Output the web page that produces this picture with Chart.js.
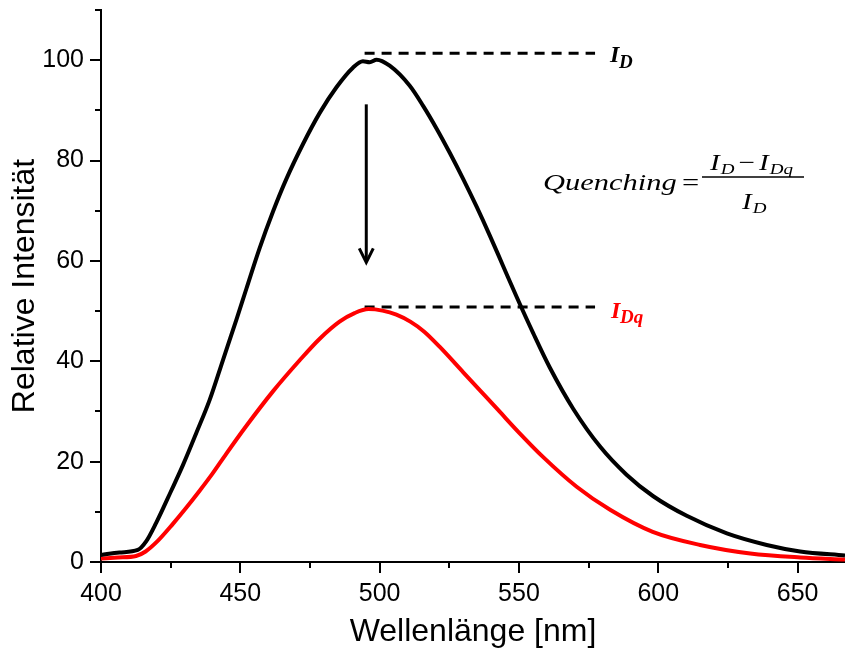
<!DOCTYPE html>
<html>
<head>
<meta charset="utf-8">
<script src="https://cdn.jsdelivr.net/npm/chart.js@4"></script>
<style>
  html, body { margin: 0; padding: 0; background: #fff; }
  #wrap { width: 845px; height: 652px; }
</style>
</head>
<body>
<div id="wrap"><canvas id="chart" width="845" height="652"></canvas></div>
<script>
// donor spectrum (black)
const blackNm = [400, 406.6, 413.2, 416.2, 419.8, 425.2, 429.4, 434.2, 439, 443.8, 448.6, 452.2, 456.9, 461.7,
  466.5, 472.5, 478.5, 484.5, 490.4, 494, 496.4, 498.9, 503.6, 510.8, 515.6, 520.4, 525.2, 530, 534.8,
  539.5, 544.3, 549.1, 555.1, 561.1, 569.5, 579.1, 588.6, 598.2, 610.2, 624.6, 638.9, 650.9, 667];
const blackVals = [1.4, 1.9, 2.4, 4.1, 7.8, 14.2, 19.3, 25.7, 32.3, 40.3, 48.3, 54.5, 62.5, 69.8,
  76.3, 83.3, 89.5, 94.6, 98.5, 99.8, 99.6, 100.1, 98.9, 94.9, 90.9, 86.4, 81.5, 76.3, 70.8,
  65.1, 59.0, 52.9, 45.6, 38.7, 30.5, 23.0, 17.4, 13.1, 9.2, 5.7, 3.4, 2.1, 1.3];

// quenched spectrum (red)
const redNm = [400, 406, 412.6, 416, 420, 425.8, 430, 435.4, 440, 445, 452, 461.7, 471.3, 478.5, 485.6,
  491, 496, 501, 506, 511, 516, 521.5, 530, 536, 543, 550, 558.7, 570.7, 582.7, 598, 615, 633, 651, 667];
const redVals = [0.7, 0.9, 1.2, 2.1, 4.0, 7.6, 10.4, 14.2, 17.6, 21.6, 27.0, 34.0, 40.2, 44.5, 47.9,
  49.6, 50.4, 50.1, 49.3, 47.9, 45.9, 42.9, 37.8, 34.2, 30.0, 25.8, 20.9, 15.0, 10.4, 6.0, 3.4, 1.7, 0.9, 0.5];

// dashed guide lines and arrow (data units)
const guideNm = [494.6, 577.3];
const guideTop = 101.4;
const guideBottom = 50.8;
const arrowNm = 495.2;
const arrowFrom = 91.2;
const arrowTo = 59.7;

const xMinor = [425, 475, 525, 575, 625];
const yMinor = [10, 30, 50, 70, 90, 110];

const toPoints = (xs, ys) => xs.map((v, i) => ({ x: v, y: ys[i] }));

// formula text is a little wider than the plain font, stretch it sideways
const STRETCH = 1.27;
function wide(ctx, text, x, y, font) {
  ctx.font = font;
  ctx.setTransform(STRETCH, 0, 0, 1, x, 0);
  ctx.fillText(text, 0, y);
  ctx.setTransform(1, 0, 0, 1, 0, 0);
  return x + ctx.measureText(text).width * STRETCH;
}
function sub(ctx, main, s, x, y) {
  const end = wide(ctx, main, x, y, 'italic 23px "Liberation Serif"');
  return wide(ctx, s, end + 1, y + 4, 'italic 15px "Liberation Serif"');
}

const extras = {
  id: 'extras',
  afterDraw(chart) {
    const { ctx, chartArea } = chart;
    const x = chart.scales.x, y = chart.scales.y;
    ctx.save();
    ctx.strokeStyle = '#000';
    ctx.lineWidth = 2;
    // minor ticks
    xMinor.forEach(v => {
      const px = Math.round(x.getPixelForValue(v));
      ctx.beginPath(); ctx.moveTo(px, chartArea.bottom); ctx.lineTo(px, chartArea.bottom + 6); ctx.stroke();
    });
    yMinor.forEach(v => {
      const py = Math.round(y.getPixelForValue(v));
      ctx.beginPath(); ctx.moveTo(chartArea.left, py); ctx.lineTo(chartArea.left - 6, py); ctx.stroke();
    });

    // arrow
    const ax = x.getPixelForValue(arrowNm);
    const ay1 = y.getPixelForValue(arrowFrom), ay2 = y.getPixelForValue(arrowTo);
    ctx.lineWidth = 3;
    ctx.beginPath(); ctx.moveTo(ax, ay1); ctx.lineTo(ax, ay2 - 2); ctx.stroke();
    ctx.beginPath(); ctx.moveTo(ax - 7, ay2 - 14); ctx.lineTo(ax, ay2); ctx.lineTo(ax + 7, ay2 - 14); ctx.stroke();

    // labels at the guide lines
    ctx.textBaseline = 'alphabetic';
    ctx.textAlign = 'left';
    ctx.fillStyle = '#000';
    const lx = x.getPixelForValue(guideNm[1]) + 15;
    ctx.font = 'italic bold 24px "Liberation Serif"';
    ctx.fillText('I', lx, y.getPixelForValue(guideTop) + 9);
    ctx.font = 'italic bold 19px "Liberation Serif"';
    ctx.fillText('D', lx + 9, y.getPixelForValue(guideTop) + 15);

    ctx.fillStyle = '#ff0000';
    ctx.font = 'italic bold 24px "Liberation Serif"';
    ctx.fillText('I', lx + 1, y.getPixelForValue(guideBottom) + 11);
    ctx.font = 'italic bold 19px "Liberation Serif"';
    ctx.fillText('Dq', lx + 10, y.getPixelForValue(guideBottom) + 16);

    // quenching formula
    ctx.fillStyle = '#000';
    wide(ctx, 'Quenching', 543, 190, 'italic 24px "Liberation Serif"');
    wide(ctx, '=', 682, 190, '24px "Liberation Serif"');
    ctx.lineWidth = 1.5;
    ctx.beginPath(); ctx.moveTo(702, 177); ctx.lineTo(804, 177); ctx.stroke();
    let nx = sub(ctx, 'I', 'D', 710, 170);
    nx = wide(ctx, '\u2212', nx + 4, 170, '23px "Liberation Serif"');
    sub(ctx, 'I', 'Dq', nx + 4, 170);
    sub(ctx, 'I', 'D', 742, 209);
    ctx.restore();
  }
};

const axisFont = { family: '"Liberation Sans", Arial', size: 25 };
const titleFont = { family: '"Liberation Sans", Arial', size: 32 };

new Chart(document.getElementById('chart'), {
  type: 'line',
  data: {
    datasets: [
      { data: toPoints(blackNm, blackVals), borderColor: '#000', borderWidth: 4, pointRadius: 0, cubicInterpolationMode: 'monotone' },
      { data: toPoints(redNm, redVals), borderColor: '#ff0000', borderWidth: 4, pointRadius: 0, cubicInterpolationMode: 'monotone' },
      { data: toPoints(guideNm, [guideTop, guideTop]), borderColor: '#000', borderWidth: 3, borderDash: [10, 7], pointRadius: 0 },
      { data: toPoints(guideNm, [guideBottom, guideBottom]), borderColor: '#000', borderWidth: 3, borderDash: [10, 7], pointRadius: 0 }
    ]
  },
  options: {
    responsive: false,
    animation: false,
    layout: { padding: { top: 10, right: 0, left: 0, bottom: 0 } },
    plugins: { legend: { display: false }, tooltip: { enabled: false } },
    scales: {
      x: {
        type: 'linear', min: 400, max: 667,
        afterFit: s => { s.height = 90; s.paddingRight = 0; },
        grid: { drawOnChartArea: false, drawTicks: true, tickLength: 11, color: '#000', lineWidth: 2 },
        border: { display: true, color: '#000', width: 2 },
        ticks: { stepSize: 50, includeBounds: false, color: '#000', padding: 6, maxRotation: 0, font: axisFont },
        title: { display: true, text: 'Wellenlänge [nm]', color: '#000', padding: { top: 0, bottom: 1 }, font: titleFont }
      },
      y: {
        min: 0, max: 110,
        afterFit: s => { s.width = 101; s.paddingTop = 0; s.paddingBottom = 0; },
        grid: { drawOnChartArea: false, drawTicks: true, tickLength: 11, color: '#000', lineWidth: 2 },
        border: { display: true, color: '#000', width: 2 },
        ticks: { stepSize: 20, includeBounds: false, color: '#000', padding: 6, font: axisFont },
        title: { display: true, text: 'Relative Intensität', color: '#000', padding: { top: 6, bottom: 0 }, font: titleFont }
      }
    }
  },
  plugins: [extras]
});
</script>
</body>
</html>
